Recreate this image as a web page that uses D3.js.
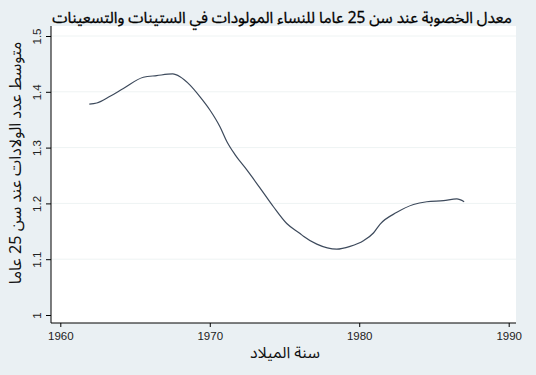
<!DOCTYPE html>
<html><head><meta charset="utf-8">
<script src="https://cdn.jsdelivr.net/npm/d3@7"></script>
<style>body{margin:0;background:#eaf0f3;}svg{display:block;}</style>
</head><body>
<svg id="c" width="536" height="375"></svg>
<script>
const titleText = "معدل الخصوبة عند سن 25 عاما للنساء المولودات في الستينات والتسعينات";
const xLabel = "سنة الميلاد";
const yLabel = "متوسط عدد الولادات عند سن 25 عاما";
const xTicks = [1960, 1970, 1980, 1990];
const yTicks = [1, 1.1, 1.2, 1.3, 1.4, 1.5];
const years = [1961.94,1962.44,1963.33,1964.22,1965.56,1966.45,1967.52,1968.01,1968.68,1969.35,1970.02,1970.69,1971.14,1971.70,1972.48,1973.38,1974.26,1975.15,1976.04,1976.27,1977.16,1978.50,1979.39,1980.28,1980.95,1981.40,1982.52,1983.63,1984.52,1985.64,1986.53,1987.02];
const values = [1.378,1.380,1.392,1.406,1.426,1.429,1.432,1.427,1.412,1.391,1.367,1.337,1.311,1.287,1.260,1.227,1.194,1.164,1.146,1.141,1.127,1.118,1.123,1.133,1.147,1.163,1.184,1.198,1.203,1.205,1.208,1.203];

const svg = d3.select("#c");
const W = 536, H = 375;
svg.append("rect").attr("width", W).attr("height", H).attr("fill", "#eaf0f3");
const plot = {left: 51, right: 516, top: 26, bottom: 323};
svg.append("rect").attr("x", plot.left).attr("y", plot.top)
  .attr("width", plot.right - plot.left).attr("height", plot.bottom - plot.top).attr("fill", "#ffffff");

const x = d3.scaleLinear().domain([1960, 1990]).range([60.3, 508.7]);
const y = d3.scaleLinear().domain([1, 1.5]).range([315, 36]);

// grid
svg.append("g").selectAll("line").data(yTicks.slice(1)).join("line")
  .attr("x1", plot.left).attr("x2", plot.right)
  .attr("y1", d => y(d)).attr("y2", d => y(d))
  .attr("stroke", "#eef3f3").attr("stroke-width", 1);

// line
const line = d3.line().x((d, i) => x(years[i])).y((d, i) => y(values[i])).curve(d3.curveMonotoneX);
svg.append("path").datum(values).attr("d", line)
  .attr("fill", "none").attr("stroke", "#3d4a5c").attr("stroke-width", 1.2);

// axes
const xAxis = d3.axisBottom(x).tickValues(xTicks).tickFormat(d3.format("d")).tickSize(4).tickSizeOuter(0);
const gx = svg.append("g").attr("transform", `translate(0,${plot.bottom})`).call(xAxis);
gx.select(".domain").remove();
gx.append("line").attr("x1", plot.left).attr("x2", plot.right).attr("stroke", "#000");
gx.selectAll(".tick line").attr("stroke", "#000");
gx.selectAll(".tick text").attr("font-family", "Liberation Sans, Arial, sans-serif").attr("font-size", 11.5).attr("fill", "#222").attr("dy", "0.9em");

const yAxis = d3.axisLeft(y).tickValues(yTicks).tickFormat(d => d === 1 ? "1" : d3.format(".1f")(d)).tickSize(5).tickSizeOuter(0);
const gy = svg.append("g").attr("transform", `translate(${plot.left},0)`).call(yAxis);
gy.select(".domain").remove();
gy.append("line").attr("y1", plot.top).attr("y2", plot.bottom).attr("stroke", "#000");
gy.selectAll(".tick line").attr("stroke", "#000");
gy.selectAll(".tick text")
  .attr("font-family", "Liberation Sans, Arial, sans-serif").attr("font-size", 11.5).attr("fill", "#222")
  .attr("x", null).attr("dy", null)
  .attr("text-anchor", "middle")
  .attr("transform", "translate(-10,0) rotate(-90)");

const arabicFont = "'Noto Sans Arabic','DejaVu Sans',sans-serif";
// title
const t = svg.append("text").attr("x", 282).attr("y", 23).attr("text-anchor", "middle")
  .attr("direction", "rtl").attr("font-family", arabicFont).attr("font-size", 17).attr("fill", "#000")
  .attr("stroke", "#000").attr("stroke-width", 0.3)
  .text(titleText);
fitWidth(t, 460, 17);

const xl = svg.append("text").attr("x", 285).attr("y", 358).attr("text-anchor", "middle")
  .attr("direction", "rtl").attr("font-family", arabicFont).attr("font-size", 16).attr("fill", "#111")
  .text(xLabel);
fitWidth(xl, 70, 16);

const yl = svg.append("text").attr("transform", "translate(21,163) rotate(-90)").attr("text-anchor", "middle")
  .attr("direction", "rtl").attr("font-family", arabicFont).attr("font-size", 15).attr("fill", "#111")
  .text(yLabel);
fitWidth(yl, 243, 15);

function fitWidth(sel, target, size) {
  const w = sel.node().getComputedTextLength();
  if (w > 0) sel.attr("font-size", size * target / w);
}
</script>
</body></html>
